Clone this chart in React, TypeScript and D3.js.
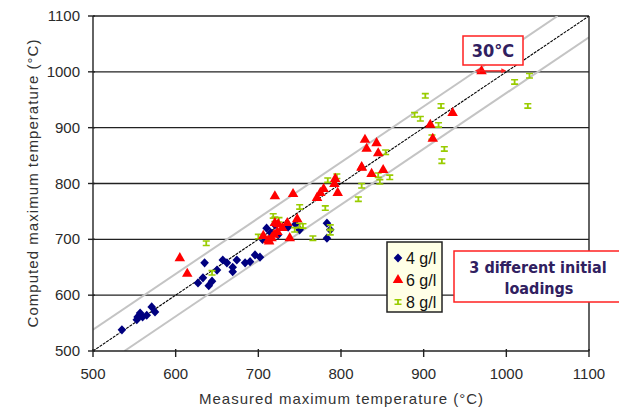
import React from "react";
import * as d3 from "d3";

// measured vs computed maximum temperature (°C), by initial loading
const loading4: [number, number][] = [
  [535, 538], [553, 556], [554, 561], [557, 568], [560, 561], [565, 564], [571, 579],
  [575, 570], [627, 622], [633, 631], [635, 658], [640, 617], [644, 625], [650, 645],
  [657, 663], [662, 658], [669, 642], [674, 663], [669, 650], [684, 658], [690, 660],
  [696, 672], [702, 668], [705, 700], [710, 720], [715, 712], [720, 726], [724, 708],
  [736, 722], [745, 727], [750, 717], [783, 729], [787, 717], [783, 702],
];

const loading6: [number, number][] = [
  [605, 668], [614, 640], [706, 708], [712, 700], [713, 698], [716, 704], [719, 710],
  [720, 731], [723, 715], [724, 729], [729, 722], [735, 731], [738, 704], [747, 738],
  [720, 779], [742, 783], [771, 776], [775, 785], [779, 792], [792, 801], [793, 810],
  [796, 785], [825, 831], [825, 830], [837, 819], [851, 826], [829, 880], [843, 874],
  [831, 864], [845, 856], [908, 907], [911, 882], [935, 928], [970, 1003],
];

const loading8: [number, number][] = [
  [637, 693], [644, 640], [700, 705], [718, 742], [720, 736], [725, 735], [744, 717],
  [750, 758], [750, 725], [754, 724], [766, 702], [781, 756], [784, 806], [787, 722],
  [787, 712], [795, 813], [821, 772], [825, 796], [845, 815], [847, 803], [854, 856],
  [859, 811], [889, 923], [896, 916], [902, 957], [910, 883], [918, 905], [921, 939],
  [922, 840], [925, 862], [1010, 982], [1028, 993], [1026, 939],
];

const xTicks = [500, 600, 700, 800, 900, 1000, 1100];
const yTicks = [500, 600, 700, 800, 900, 1000, 1100];
const legendLabels = ["4 g/l", "6 g/l", "8 g/l"];
const band = 38;

const W = 619;
const H = 408;
const margin = { top: 16, right: 30, bottom: 57, left: 93 };

const textColor = "#2a2a2a";
const noteColor = "#302060";
const noteFont = "'DejaVu Sans Condensed', 'DejaVu Sans', sans-serif";

const App = () => {
  const x = d3.scaleLinear().domain([500, 1100]).range([margin.left, W - margin.right]);
  const y = d3.scaleLinear().domain([500, 1100]).range([H - margin.bottom, margin.top]);
  const [x0, x1] = x.range();
  const [y0, y1] = y.range();

  const diamond = "M0,-4.6L4.3,0L0,4.6L-4.3,0Z";
  const triangle = d3.symbol(d3.symbolTriangle, 48)()!;
  const ibeam = "M-3.5,-3h7v1.6h-2.6v2.8h2.6v1.6h-7v-1.6h2.6v-2.8h-2.6z";

  const line = d3.line<[number, number]>().x(d => x(d[0])).y(d => y(d[1]));

  const upper: [number, number][] = [[500, 500 + band], [1100 - band, 1100]];
  const lower: [number, number][] = [[500 + band, 500], [1100, 1100 - band]];
  const diag: [number, number][] = [[500, 500], [1100, 1100]];

  const legendMarks = [
    { d: diamond, fill: "#000080" },
    { d: triangle, fill: "#ff0000" },
    { d: ibeam, fill: "#99cc00" },
  ];

  const arrowY = y(1000) - 1;
  const ax0 = x(1000 - band) + 2;
  const ax1 = x(1000) - 2;

  return (
    <svg width={W} height={H} style={{ position: "absolute", left: 0, top: 0 }}
      fontFamily="'Liberation Sans', Arial, sans-serif">
      <defs>
        <clipPath id="plot">
          <rect x={x0} y={y1} width={x1 - x0} height={y0 - y1} />
        </clipPath>
      </defs>
      <rect width={W} height={H} fill="#fff" />

      {/* horizontal gridlines */}
      {yTicks.slice(1).map(t => (
        <line key={t} x1={x0} x2={x1} y1={y(t)} y2={y(t)} stroke="#222" strokeWidth={1.4} />
      ))}

      <g clipPath="url(#plot)">
        <path d={line(upper)!} stroke="#c4c4c4" strokeWidth={2} fill="none" />
        <path d={line(lower)!} stroke="#c4c4c4" strokeWidth={2} fill="none" />
        <path d={line(diag)!} stroke="#000" strokeWidth={1.1} strokeDasharray="3,1" fill="none" />
      </g>

      {/* axes frame */}
      <line x1={x0} x2={x0} y1={y1} y2={y0} stroke="#222" strokeWidth={1.4} />
      <line x1={x1} x2={x1} y1={y1} y2={y0} stroke="#222" strokeWidth={1.4} />
      <line x1={x0} x2={x1} y1={y0} y2={y0} stroke="#222" strokeWidth={1.4} />
      {yTicks.map(t => (
        <g key={t}>
          <line x1={x0 - 5} x2={x0 + 2} y1={y(t)} y2={y(t)} stroke="#222" strokeWidth={1.4} />
          <text x={x0 - 13} y={y(t) + 5} textAnchor="end" fontSize={15} fill={textColor}>{t}</text>
        </g>
      ))}
      {xTicks.map(t => (
        <g key={t}>
          <line x1={x(t)} x2={x(t)} y1={y0 - 2} y2={y0 + 6} stroke="#222" strokeWidth={1.4} />
          <text x={x(t)} y={y0 + 28} textAnchor="middle" fontSize={15} fill={textColor}>{t}</text>
        </g>
      ))}

      {/* data */}
      {loading4.map((d, i) => (
        <path key={"a" + i} d={diamond} transform={`translate(${x(d[0])},${y(d[1])})`} fill="#000080" />
      ))}
      {loading8.map((d, i) => (
        <path key={"c" + i} d={ibeam} transform={`translate(${x(d[0])},${y(d[1])})`} fill="#99cc00" />
      ))}
      {loading6.map((d, i) => (
        <path key={"b" + i} d={triangle} transform={`translate(${x(d[0])},${y(d[1]) + 1})`} fill="#ff0000" />
      ))}

      {/* axis titles */}
      <text x={(x0 + x1) / 2} y={H - 4} textAnchor="middle" fontSize={15} fill="#333"
        textLength={284} lengthAdjust="spacing">
        Measured maximum temperature (°C)
      </text>
      <text transform={`translate(38,${(y0 + y1) / 2}) rotate(-90)`} textAnchor="middle" fontSize={15} fill="#333"
        textLength={288} lengthAdjust="spacing">
        Computed maximum temperature (°C)
      </text>

      {/* legend */}
      <rect x={387} y={242} width={55} height={70} fill="#ffffe6" stroke="#222" strokeWidth={1.5} />
      {legendLabels.map((l, i) => (
        <g key={l} transform={`translate(0,${258 + i * 22})`}>
          <path d={legendMarks[i].d} transform="translate(398,0)" fill={legendMarks[i].fill} />
          <text x={406} y={6} fontSize={16} fill="#111">{l}</text>
        </g>
      ))}

      {/* 30°C note */}
      <rect x={463} y={36} width={60} height={29} fill="#fff" stroke="#ff2020" strokeWidth={1.5} />
      <text x={493} y={57} textAnchor="middle" fontSize={18} fontWeight="bold"
        fontFamily={noteFont} fill={noteColor}>30°C</text>
      <line x1={ax0} x2={ax1} y1={arrowY} y2={arrowY} stroke="#ff2020" strokeWidth={1.3} />
      <path d={`M${ax0 - 2},${arrowY}l5,-2.5v5z`} fill="#ff2020" />
      <path d={`M${ax1 + 2},${arrowY}l-5,-2.5v5z`} fill="#ff2020" />

      {/* loadings note */}
      <rect x={454} y={251} width={180} height={51} fill="#fff" stroke="#ff2020" strokeWidth={1.5} />
      <g fontFamily={noteFont} fontWeight="bold" fontSize={16} fill={noteColor} textAnchor="middle">
        <text x={538} y={273}>3 different initial</text>
        <text x={539} y={294}>loadings</text>
      </g>
    </svg>
  );
};

export default App;
